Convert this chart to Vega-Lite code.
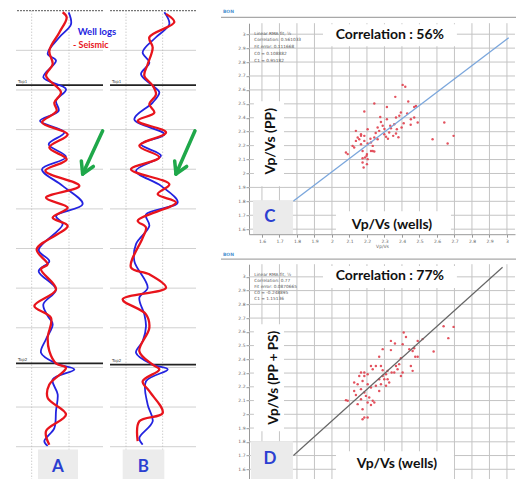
{
  "$schema": "https://vega.github.io/schema/vega-lite/v6.json",
  "padding": {"left": 15, "top": 6.7, "right": 0, "bottom": 0},
  "bounds": "flush",
  "spacing": 7,
  "config": {
    "view": {"stroke": null},
    "axis": {"labelFontSize": 4.5, "labelColor": "#666", "tickColor": "#999", "tickSize": 3, "domainColor": "#999", "labelPadding": 1, "titleFontSize": 4.5, "titleFontWeight": "normal", "titleColor": "#666", "labelFont": "DejaVu Sans", "titleFont": "DejaVu Sans", "titlePadding": 1, "labelOverlap": false, "labelBound": false, "labelFlush": false, "grid": false}
  },
  "datasets": {
    "gridAB": [{"d": 100}, {"d": 200}, {"d": 300}, {"d": 400}, {"d": 500}, {"d": 600}, {"d": 700}, {"d": 800}, {"d": 900}, {"d": 1000}, {"d": 1100}],
    "topLine": [{"d": 0}],
    "gvC": [{"x":1.6,"y":1.564,"y2":3.079},{"x":1.7,"y":1.564,"y2":3.079},{"x":1.8,"y":1.564,"y2":3.079},{"x":1.9,"y":1.564,"y2":3.079},{"x":2.0,"y":1.564,"y2":3.079},{"x":2.1,"y":1.564,"y2":3.079},{"x":2.2,"y":1.564,"y2":3.079},{"x":2.3,"y":1.564,"y2":3.079},{"x":2.4,"y":1.564,"y2":3.079},{"x":2.5,"y":1.564,"y2":3.079},{"x":2.6,"y":1.564,"y2":3.079},{"x":2.7,"y":1.564,"y2":3.079},{"x":2.8,"y":1.564,"y2":3.079},{"x":2.9,"y":1.564,"y2":3.079},{"x":3.0,"y":1.564,"y2":3.079}],
    "ghC": [{"y":1.6,"x":1.526,"x2":3.046},{"y":1.7,"x":1.526,"x2":3.046},{"y":1.8,"x":1.526,"x2":3.046},{"y":1.9,"x":1.526,"x2":3.046},{"y":2.0,"x":1.526,"x2":3.046},{"y":2.1,"x":1.526,"x2":3.046},{"y":2.2,"x":1.526,"x2":3.046},{"y":2.3,"x":1.526,"x2":3.046},{"y":2.4,"x":1.526,"x2":3.046},{"y":2.5,"x":1.526,"x2":3.046},{"y":2.6,"x":1.526,"x2":3.046},{"y":2.7,"x":1.526,"x2":3.046},{"y":2.8,"x":1.526,"x2":3.046},{"y":2.9,"x":1.526,"x2":3.046},{"y":3.0,"x":1.526,"x2":3.046}],
    "gvD": [{"x":1.6,"y":1.528,"y2":3.092},{"x":1.7,"y":1.528,"y2":3.092},{"x":1.8,"y":1.528,"y2":3.092},{"x":1.9,"y":1.528,"y2":3.092},{"x":2.0,"y":1.528,"y2":3.092},{"x":2.1,"y":1.528,"y2":3.092},{"x":2.2,"y":1.528,"y2":3.092},{"x":2.3,"y":1.528,"y2":3.092},{"x":2.4,"y":1.528,"y2":3.092},{"x":2.5,"y":1.528,"y2":3.092},{"x":2.6,"y":1.528,"y2":3.092},{"x":2.7,"y":1.528,"y2":3.092},{"x":2.8,"y":1.528,"y2":3.092},{"x":2.9,"y":1.528,"y2":3.092},{"x":3.0,"y":1.528,"y2":3.092}],
    "A_log": [{"amp":158,"d":4},{"amp":165,"d":34},{"amp":130,"d":67},{"amp":95,"d":109},{"amp":120,"d":126},{"amp":82,"d":168},{"amp":150,"d":198},{"amp":120,"d":227},{"amp":128,"d":253},{"amp":72,"d":278},{"amp":145,"d":307},{"amp":98,"d":337},{"amp":150,"d":369},{"amp":78,"d":400},{"amp":140,"d":442},{"amp":200,"d":488},{"amp":120,"d":518},{"amp":140,"d":539},{"amp":68,"d":604},{"amp":100,"d":632},{"amp":68,"d":657},{"amp":120,"d":703},{"amp":82,"d":741},{"amp":95,"d":770},{"amp":110,"d":791},{"amp":90,"d":829},{"amp":75,"d":863},{"amp":120,"d":890},{"amp":175,"d":905},{"amp":110,"d":930},{"amp":125,"d":968},{"amp":120,"d":1010},{"amp":115,"d":1053},{"amp":85,"d":1086},{"amp":95,"d":1098}],
    "A_seis": [{"amp":140,"d":4},{"amp":152,"d":17},{"amp":130,"d":55},{"amp":100,"d":101},{"amp":110,"d":135},{"amp":90,"d":164},{"amp":135,"d":206},{"amp":115,"d":232},{"amp":122,"d":253},{"amp":78,"d":282},{"amp":155,"d":312},{"amp":100,"d":345},{"amp":152,"d":375},{"amp":88,"d":404},{"amp":190,"d":442},{"amp":90,"d":472},{"amp":155,"d":497},{"amp":110,"d":522},{"amp":155,"d":543},{"amp":62,"d":602},{"amp":95,"d":640},{"amp":75,"d":652},{"amp":120,"d":703},{"amp":55,"d":745},{"amp":105,"d":775},{"amp":95,"d":825},{"amp":100,"d":859},{"amp":120,"d":890},{"amp":150,"d":901},{"amp":100,"d":943},{"amp":95,"d":977},{"amp":150,"d":1019},{"amp":90,"d":1061},{"amp":100,"d":1095}],
    "B_log": [{"amp":175,"d":4},{"amp":190,"d":34},{"amp":150,"d":67},{"amp":110,"d":105},{"amp":130,"d":131},{"amp":105,"d":160},{"amp":140,"d":189},{"amp":160,"d":206},{"amp":140,"d":232},{"amp":85,"d":274},{"amp":175,"d":312},{"amp":105,"d":337},{"amp":165,"d":366},{"amp":90,"d":404},{"amp":165,"d":442},{"amp":215,"d":484},{"amp":120,"d":514},{"amp":130,"d":543},{"amp":90,"d":589},{"amp":85,"d":632},{"amp":125,"d":699},{"amp":100,"d":724},{"amp":115,"d":766},{"amp":120,"d":796},{"amp":110,"d":834},{"amp":90,"d":863},{"amp":140,"d":893},{"amp":185,"d":905},{"amp":120,"d":935},{"amp":125,"d":994},{"amp":140,"d":1036},{"amp":100,"d":1078},{"amp":110,"d":1095}],
    "B_seis": [{"amp":180,"d":8},{"amp":205,"d":29},{"amp":130,"d":67},{"amp":140,"d":93},{"amp":125,"d":135},{"amp":115,"d":164},{"amp":140,"d":189},{"amp":150,"d":211},{"amp":130,"d":236},{"amp":145,"d":257},{"amp":95,"d":278},{"amp":180,"d":307},{"amp":100,"d":341},{"amp":160,"d":370},{"amp":75,"d":400},{"amp":190,"d":438},{"amp":155,"d":463},{"amp":210,"d":484},{"amp":95,"d":530},{"amp":120,"d":547},{"amp":110,"d":573},{"amp":75,"d":648},{"amp":130,"d":665},{"amp":180,"d":699},{"amp":50,"d":728},{"amp":120,"d":766},{"amp":130,"d":800},{"amp":100,"d":859},{"amp":140,"d":893},{"amp":160,"d":905},{"amp":110,"d":935},{"amp":130,"d":960},{"amp":170,"d":1015},{"amp":100,"d":1036},{"amp":95,"d":1086}],
    "ptsC": [{"x":2.404,"y":2.636},{"x":2.419,"y":2.622},{"x":2.362,"y":2.55},{"x":2.242,"y":2.502},{"x":2.314,"y":2.478},{"x":2.436,"y":2.517},{"x":2.48,"y":2.485},{"x":2.47,"y":2.478},{"x":2.185,"y":2.445},{"x":2.394,"y":2.438},{"x":2.385,"y":2.414},{"x":2.276,"y":2.406},{"x":2.314,"y":2.39},{"x":2.366,"y":2.402},{"x":2.451,"y":2.39},{"x":2.47,"y":2.402},{"x":2.49,"y":2.366},{"x":2.642,"y":2.366},{"x":2.356,"y":2.354},{"x":2.398,"y":2.33},{"x":2.204,"y":2.318},{"x":2.261,"y":2.33},{"x":2.27,"y":2.306},{"x":2.29,"y":2.342},{"x":2.333,"y":2.342},{"x":2.337,"y":2.325},{"x":2.371,"y":2.318},{"x":2.327,"y":2.294},{"x":2.299,"y":2.282},{"x":2.309,"y":2.263},{"x":2.366,"y":2.287},{"x":2.242,"y":2.258},{"x":2.261,"y":2.246},{"x":2.166,"y":2.27},{"x":2.575,"y":2.246},{"x":2.695,"y":2.27},{"x":2.661,"y":2.215},{"x":2.185,"y":2.234},{"x":2.204,"y":2.215},{"x":2.233,"y":2.198},{"x":2.223,"y":2.162},{"x":2.242,"y":2.158},{"x":2.2,"y":2.139},{"x":2.189,"y":2.115},{"x":2.175,"y":2.079},{"x":2.2,"y":2.067},{"x":2.181,"y":2.043},{"x":2.08,"y":2.151},{"x":2.09,"y":2.139},{"x":2.118,"y":2.198},{"x":2.127,"y":2.187},{"x":2.137,"y":2.234},{"x":2.147,"y":2.258},{"x":2.166,"y":2.21},{"x":2.175,"y":2.162},{"x":2.137,"y":2.306},{"x":2.175,"y":2.11},{"x":2.198,"y":2.127},{"x":2.204,"y":2.103},{"x":2.166,"y":2.282},{"x":2.185,"y":2.27},{"x":2.156,"y":2.246},{"x":2.233,"y":2.162},{"x":2.223,"y":2.222},{"x":2.28,"y":2.37},{"x":2.3,"y":2.32},{"x":2.35,"y":2.27},{"x":2.32,"y":2.25},{"x":2.25,"y":2.29},{"x":2.43,"y":2.43},{"x":2.45,"y":2.35},{"x":2.41,"y":2.36},{"x":2.22,"y":2.25},{"x":2.38,"y":2.26}],
    "ptsD": [{"x":2.638,"y":2.641},{"x":2.695,"y":2.636},{"x":2.665,"y":2.554},{"x":2.41,"y":2.595},{"x":2.423,"y":2.563},{"x":2.337,"y":2.534},{"x":2.36,"y":2.515},{"x":2.404,"y":2.51},{"x":2.49,"y":2.534},{"x":2.518,"y":2.547},{"x":2.29,"y":2.474},{"x":2.442,"y":2.474},{"x":2.47,"y":2.481},{"x":2.461,"y":2.461},{"x":2.581,"y":2.457},{"x":2.337,"y":2.467},{"x":2.27,"y":2.418},{"x":2.49,"y":2.418},{"x":2.476,"y":2.418},{"x":2.394,"y":2.408},{"x":2.384,"y":2.365},{"x":2.223,"y":2.352},{"x":2.251,"y":2.352},{"x":2.28,"y":2.352},{"x":2.166,"y":2.304},{"x":2.185,"y":2.304},{"x":2.233,"y":2.328},{"x":2.29,"y":2.321},{"x":2.366,"y":2.352},{"x":2.375,"y":2.328},{"x":2.451,"y":2.352},{"x":2.461,"y":2.316},{"x":2.318,"y":2.316},{"x":2.341,"y":2.304},{"x":2.309,"y":2.292},{"x":2.356,"y":2.304},{"x":2.404,"y":2.304},{"x":2.394,"y":2.279},{"x":2.29,"y":2.279},{"x":2.299,"y":2.255},{"x":2.27,"y":2.255},{"x":2.318,"y":2.255},{"x":2.327,"y":2.231},{"x":2.28,"y":2.219},{"x":2.309,"y":2.207},{"x":2.156,"y":2.279},{"x":2.185,"y":2.279},{"x":2.204,"y":2.292},{"x":2.127,"y":2.231},{"x":2.147,"y":2.219},{"x":2.175,"y":2.243},{"x":2.204,"y":2.219},{"x":2.166,"y":2.183},{"x":2.223,"y":2.195},{"x":2.251,"y":2.207},{"x":2.27,"y":2.17},{"x":2.127,"y":2.17},{"x":2.137,"y":2.141},{"x":2.185,"y":2.159},{"x":2.194,"y":2.134},{"x":2.166,"y":2.11},{"x":2.213,"y":2.122},{"x":2.233,"y":2.098},{"x":2.242,"y":2.086},{"x":2.08,"y":2.103},{"x":2.09,"y":2.098},{"x":2.147,"y":2.074},{"x":2.204,"y":2.086},{"x":2.223,"y":2.068},{"x":2.175,"y":2.037},{"x":2.185,"y":1.977},{"x":2.204,"y":1.977},{"x":2.175,"y":1.964}]
  },
  "hconcat": [
    {
      "width": 87,
      "height": 436,
      "layer": [
        {"data": {"name": "gridAB"}, "mark": {"type": "rule", "color": "#d0d0d0", "strokeWidth": 1},
         "encoding": {"y": {"field": "d", "type": "quantitative", "scale": {"domain": [0, 1100], "reverse": true, "nice": false, "zero": false}, "axis": null}}},
        {"data": {"name": "topLine"}, "mark": {"type": "rule", "color": "#555", "strokeWidth": 1, "strokeDash": [2, 1]},
         "encoding": {"y": {"field": "d", "type": "quantitative", "scale": {"domain": [0, 1100], "reverse": true, "nice": false, "zero": false}, "axis": null}}},
        {"data": {"values": [{"amp": 47, "d": 0, "d2": 1185}, {"amp": 159, "d": 0, "d2": 1185}]}, "mark": {"type": "rule", "color": "#b8b8b8", "strokeWidth": 1, "strokeDash": [1, 2]},
         "encoding": {"x": {"field": "amp", "type": "quantitative", "scale": {"domain": [0, 261], "nice": false, "zero": false}, "axis": null}, "y": {"field": "d", "type": "quantitative", "scale": {"domain": [0, 1100], "reverse": true, "nice": false, "zero": false}, "axis": null}, "y2": {"field": "d2"}}},
        {"data": {"values": [{"d": 188}, {"d": 890}]}, "mark": {"type": "rule", "color": "#222", "strokeWidth": 1.8},
         "encoding": {"y": {"field": "d", "type": "quantitative", "scale": {"domain": [0, 1100], "reverse": true, "nice": false, "zero": false}, "axis": null}}},
        {"data": {"values": [{"amp": 6, "d": 184, "t": "Top1"}, {"amp": 6, "d": 886, "t": "Top2"}]}, "mark": {"type": "text", "fontSize": 4, "color": "#444", "align": "left", "baseline": "bottom", "font": "DejaVu Sans"},
         "encoding": {"x": {"field": "amp", "type": "quantitative", "scale": {"domain": [0, 261], "nice": false, "zero": false}, "axis": null}, "y": {"field": "d", "type": "quantitative", "scale": {"domain": [0, 1100], "reverse": true, "nice": false, "zero": false}, "axis": null}, "text": {"field": "t"}}},
        {"data": {"name": "A_log"}, "mark": {"type": "line", "color": "#2323e0", "strokeWidth": 1.8, "interpolate": "catmull-rom"},
         "encoding": {"x": {"field": "amp", "type": "quantitative", "scale": {"domain": [0, 261], "nice": false, "zero": false}, "axis": null}, "y": {"field": "d", "type": "quantitative", "scale": {"domain": [0, 1100], "reverse": true, "nice": false, "zero": false}, "axis": null}, "order": {"field": "d"}}},
        {"data": {"name": "A_seis"}, "mark": {"type": "line", "color": "#e8141c", "strokeWidth": 2.3, "interpolate": "catmull-rom"},
         "encoding": {"x": {"field": "amp", "type": "quantitative", "scale": {"domain": [0, 261], "nice": false, "zero": false}, "axis": null}, "y": {"field": "d", "type": "quantitative", "scale": {"domain": [0, 1100], "reverse": true, "nice": false, "zero": false}, "axis": null}, "order": {"field": "d"}}},
        {"data": {"values": [{"amp": 185, "d": 55, "t": "Well logs"}]}, "mark": {"type": "text", "fontSize": 9.5, "fontWeight": "bold", "color": "#2323e0", "align": "left", "baseline": "middle", "font": "Lato"},
         "encoding": {"x": {"field": "amp", "type": "quantitative", "scale": {"domain": [0, 261], "nice": false, "zero": false}, "axis": null}, "y": {"field": "d", "type": "quantitative", "scale": {"domain": [0, 1100], "reverse": true, "nice": false, "zero": false}, "axis": null}, "text": {"field": "t"}}},
        {"data": {"values": [{"amp": 171, "d": 86, "t": "- Seismic"}]}, "mark": {"type": "text", "fontSize": 9, "fontWeight": "bold", "color": "#e8141c", "align": "left", "baseline": "middle", "font": "Lato"},
         "encoding": {"x": {"field": "amp", "type": "quantitative", "scale": {"domain": [0, 261], "nice": false, "zero": false}, "axis": null}, "y": {"field": "d", "type": "quantitative", "scale": {"domain": [0, 1100], "reverse": true, "nice": false, "zero": false}, "axis": null}, "text": {"field": "t"}}},
        {"data": {"values": [{"amp": 260, "d": 303, "amp2": 200, "d2": 412}, {"amp": 200, "d": 412, "amp2": 196, "d2": 379}, {"amp": 200, "d": 412, "amp2": 232, "d2": 393}]}, "mark": {"type": "rule", "color": "#1fa84a", "strokeWidth": 3.5, "strokeCap": "round"},
         "encoding": {"x": {"field": "amp", "type": "quantitative", "scale": {"domain": [0, 261], "nice": false, "zero": false}, "axis": null}, "x2": {"field": "amp2"}, "y": {"field": "d", "type": "quantitative", "scale": {"domain": [0, 1100], "reverse": true, "nice": false, "zero": false}, "axis": null}, "y2": {"field": "d2"}}},
        {"data": {"values": [{"amp": 66, "amp2": 186, "d": 1107, "d2": 1185}]}, "mark": {"type": "rect", "color": "#ececec"},
         "encoding": {"x": {"field": "amp", "type": "quantitative", "scale": {"domain": [0, 261], "nice": false, "zero": false}, "axis": null}, "x2": {"field": "amp2"}, "y": {"field": "d", "type": "quantitative", "scale": {"domain": [0, 1100], "reverse": true, "nice": false, "zero": false}, "axis": null}, "y2": {"field": "d2"}}},
        {"data": {"values": [{"amp": 126, "d": 1150, "t": "A"}]}, "mark": {"type": "text", "fontSize": 17, "fontWeight": "bold", "color": "#2b3fd1", "align": "center", "baseline": "middle", "font": "Lato"},
         "encoding": {"x": {"field": "amp", "type": "quantitative", "scale": {"domain": [0, 261], "nice": false, "zero": false}, "axis": null}, "y": {"field": "d", "type": "quantitative", "scale": {"domain": [0, 1100], "reverse": true, "nice": false, "zero": false}, "axis": null}, "text": {"field": "t"}}}
      ]
    },
    {
      "width": 86,
      "height": 436,
      "layer": [
        {"data": {"name": "gridAB"}, "mark": {"type": "rule", "color": "#d0d0d0", "strokeWidth": 1},
         "encoding": {"y": {"field": "d", "type": "quantitative", "scale": {"domain": [0, 1100], "reverse": true, "nice": false, "zero": false}, "axis": null}}},
        {"data": {"name": "topLine"}, "mark": {"type": "rule", "color": "#555", "strokeWidth": 1, "strokeDash": [2, 1]},
         "encoding": {"y": {"field": "d", "type": "quantitative", "scale": {"domain": [0, 1100], "reverse": true, "nice": false, "zero": false}, "axis": null}}},
        {"data": {"values": [{"amp": 60, "d": 0, "d2": 1185}, {"amp": 170, "d": 0, "d2": 1185}]}, "mark": {"type": "rule", "color": "#b8b8b8", "strokeWidth": 1, "strokeDash": [1, 2]},
         "encoding": {"x": {"field": "amp", "type": "quantitative", "scale": {"domain": [12, 270], "nice": false, "zero": false}, "axis": null}, "y": {"field": "d", "type": "quantitative", "scale": {"domain": [0, 1100], "reverse": true, "nice": false, "zero": false}, "axis": null}, "y2": {"field": "d2"}}},
        {"data": {"values": [{"d": 188}, {"d": 893}]}, "mark": {"type": "rule", "color": "#222", "strokeWidth": 1.8},
         "encoding": {"y": {"field": "d", "type": "quantitative", "scale": {"domain": [0, 1100], "reverse": true, "nice": false, "zero": false}, "axis": null}}},
        {"data": {"values": [{"amp": 18, "d": 184, "t": "Top1"}, {"amp": 18, "d": 889, "t": "Top2"}]}, "mark": {"type": "text", "fontSize": 4, "color": "#444", "align": "left", "baseline": "bottom", "font": "DejaVu Sans"},
         "encoding": {"x": {"field": "amp", "type": "quantitative", "scale": {"domain": [12, 270], "nice": false, "zero": false}, "axis": null}, "y": {"field": "d", "type": "quantitative", "scale": {"domain": [0, 1100], "reverse": true, "nice": false, "zero": false}, "axis": null}, "text": {"field": "t"}}},
        {"data": {"name": "B_log"}, "mark": {"type": "line", "color": "#2323e0", "strokeWidth": 1.8, "interpolate": "catmull-rom"},
         "encoding": {"x": {"field": "amp", "type": "quantitative", "scale": {"domain": [12, 270], "nice": false, "zero": false}, "axis": null}, "y": {"field": "d", "type": "quantitative", "scale": {"domain": [0, 1100], "reverse": true, "nice": false, "zero": false}, "axis": null}, "order": {"field": "d"}}},
        {"data": {"name": "B_seis"}, "mark": {"type": "line", "color": "#e8141c", "strokeWidth": 2.3, "interpolate": "catmull-rom"},
         "encoding": {"x": {"field": "amp", "type": "quantitative", "scale": {"domain": [12, 270], "nice": false, "zero": false}, "axis": null}, "y": {"field": "d", "type": "quantitative", "scale": {"domain": [0, 1100], "reverse": true, "nice": false, "zero": false}, "axis": null}, "order": {"field": "d"}}},
        {"data": {"values": [{"amp": 267, "d": 303, "amp2": 210, "d2": 412}, {"amp": 210, "d": 412, "amp2": 206, "d2": 379}, {"amp": 210, "d": 412, "amp2": 242, "d2": 393}]}, "mark": {"type": "rule", "color": "#1fa84a", "strokeWidth": 3.5, "strokeCap": "round"},
         "encoding": {"x": {"field": "amp", "type": "quantitative", "scale": {"domain": [12, 270], "nice": false, "zero": false}, "axis": null}, "x2": {"field": "amp2"}, "y": {"field": "d", "type": "quantitative", "scale": {"domain": [0, 1100], "reverse": true, "nice": false, "zero": false}, "axis": null}, "y2": {"field": "d2"}}},
        {"data": {"values": [{"amp": 50, "amp2": 175, "d": 1107, "d2": 1185}]}, "mark": {"type": "rect", "color": "#ececec"},
         "encoding": {"x": {"field": "amp", "type": "quantitative", "scale": {"domain": [12, 270], "nice": false, "zero": false}, "axis": null}, "x2": {"field": "amp2"}, "y": {"field": "d", "type": "quantitative", "scale": {"domain": [0, 1100], "reverse": true, "nice": false, "zero": false}, "axis": null}, "y2": {"field": "d2"}}},
        {"data": {"values": [{"amp": 112, "d": 1150, "t": "B"}]}, "mark": {"type": "text", "fontSize": 17, "fontWeight": "bold", "color": "#2b3fd1", "align": "center", "baseline": "middle", "font": "Lato"},
         "encoding": {"x": {"field": "amp", "type": "quantitative", "scale": {"domain": [12, 270], "nice": false, "zero": false}, "axis": null}, "y": {"field": "d", "type": "quantitative", "scale": {"domain": [0, 1100], "reverse": true, "nice": false, "zero": false}, "axis": null}, "text": {"field": "t"}}}
      ]
    },
    {
      "width": 39,
      "height": 10,
      "data": {"values": []},
      "mark": {"type": "point", "opacity": 0},
      "encoding": {}
    },
    {
      "spacing": 4.5,
      "bounds": "flush",
      "vconcat": [
        {
          "width": 266,
          "height": 7.8,
          "layer": [
            {"data": {"values": [{"x": 1.366, "x2": 3.057, "y": 0.15}]}, "mark": {"type": "rule", "color": "#a8a8a8", "strokeWidth": 1.2},
             "encoding": {"x": {"field": "x", "type": "quantitative", "scale": {"domain": [1.526, 3.046], "nice": false, "zero": false}, "axis": null}, "x2": {"field": "x2"}, "y": {"field": "y", "type": "quantitative", "scale": {"domain": [0, 1], "nice": false, "zero": false}, "axis": null}}},
            {"data": {"values": [{"x": 1.377, "y": 0.8, "t": "BON"}]}, "mark": {"type": "text", "fontSize": 4.5, "fontWeight": "bold", "color": "#4a90d0", "align": "left", "baseline": "middle", "font": "DejaVu Sans"},
             "encoding": {"x": {"field": "x", "type": "quantitative", "scale": {"domain": [1.526, 3.046], "nice": false, "zero": false}, "axis": null}, "y": {"field": "y", "type": "quantitative", "scale": {"domain": [0, 1], "nice": false, "zero": false}, "axis": null}, "text": {"field": "t"}}}
          ]
        },
        {
          "width": 266,
          "height": 211,
          "encoding": {
            "x": {"field": "x", "type": "quantitative", "scale": {"domain": [1.526, 3.046], "nice": false, "zero": false}, "axis": {"values": [1.6, 1.7, 1.8, 1.9, 2, 2.1, 2.2, 2.3, 2.4, 2.5, 2.6, 2.7, 2.8, 2.9, 3], "format": "~g", "title": "Vp/Vs", "grid": false}},
            "y": {"field": "y", "type": "quantitative", "scale": {"domain": [1.564, 3.079], "nice": false, "zero": false}, "axis": {"values": [1.6, 1.7, 1.8, 1.9, 2, 2.1, 2.2, 2.3, 2.4, 2.5, 2.6, 2.7, 2.8, 2.9, 3], "format": "~g", "title": null, "grid": false}}
          },
          "layer": [
            {"data": {"name": "gvC"}, "mark": {"type": "rule", "color": "#c4c4c4", "strokeWidth": 1}, "encoding": {"y2": {"field": "y2"}}},
            {"data": {"name": "ghC"}, "mark": {"type": "rule", "color": "#c4c4c4", "strokeWidth": 1}, "encoding": {"x2": {"field": "x2"}}},
            {"data": {"name": "ptsC"}, "mark": {"type": "point", "filled": true, "size": 6, "color": "#e0404e", "opacity": 0.9}},
            {"data": {"values": [{"x": 1.78, "y": 1.803}, {"x": 3.01, "y": 2.974}]}, "mark": {"type": "line", "color": "#7aa6dc", "strokeWidth": 1.3}},
            {"data": {"values": [{"x": 1.949, "x2": 2.714, "y": 3.072, "y2": 2.914}, {"x": 1.554, "x2": 1.726, "y": 2.519, "y2": 1.909}, {"x": 2.023, "x2": 2.68, "y": 1.729, "y2": 1.566}]}, "mark": {"type": "rect", "color": "#ffffff"},
             "encoding": {"x2": {"field": "x2"}, "y2": {"field": "y2"}}},
            {"data": {"values": [{"x": 1.549, "x2": 1.777, "y": 1.808, "y2": 1.566}]}, "mark": {"type": "rect", "color": "#ebebeb"},
             "encoding": {"x2": {"field": "x2"}, "y2": {"field": "y2"}}},
            {"data": {"values": [{"x": 1.556, "y": 3.005, "t": "Linear RMA fit, ½"}, {"x": 1.556, "y": 2.955, "t": "Correlation: 0.561033"}, {"x": 1.556, "y": 2.905, "t": "Fit error: 0.111668"}, {"x": 1.556, "y": 2.855, "t": "C0 = 0.108882"}, {"x": 1.556, "y": 2.805, "t": "C1 = 0.95182"}]}, "mark": {"type": "text", "fontSize": 4.3, "color": "#555", "align": "left", "baseline": "middle", "font": "DejaVu Sans"},
             "encoding": {"text": {"field": "t"}}},
            {"data": {"values": [{"x": 2.331, "y": 2.996, "t": "Correlation : 56%"}, {"x": 2.343, "y": 1.629, "t": "Vp/Vs (wells)"}]}, "mark": {"type": "text", "fontSize": 14, "fontWeight": "bold", "color": "#111", "align": "center", "baseline": "middle", "font": "Lato"},
             "encoding": {"text": {"field": "t"}}},
            {"data": {"values": [{"x": 1.654, "y": 2.232, "t": "Vp/Vs (PP)"}]}, "mark": {"type": "text", "fontSize": 14, "fontWeight": "bold", "color": "#111", "align": "center", "baseline": "middle", "angle": 270, "font": "Lato"},
             "encoding": {"text": {"field": "t"}}},
            {"data": {"values": [{"x": 1.646, "y": 1.686, "t": "C"}]}, "mark": {"type": "text", "fontSize": 17, "fontWeight": "bold", "color": "#2b3fd1", "align": "center", "baseline": "middle", "font": "Lato"},
             "encoding": {"text": {"field": "t"}}}
          ]
        },
        {
          "width": 266,
          "height": 21,
          "layer": [
            {"data": {"values": [{"x": 1.366, "x2": 3.057, "y": 0.03}]}, "mark": {"type": "rule", "color": "#a8a8a8", "strokeWidth": 1.2},
             "encoding": {"x": {"field": "x", "type": "quantitative", "scale": {"domain": [1.526, 3.046], "nice": false, "zero": false}, "axis": null}, "x2": {"field": "x2"}, "y": {"field": "y", "type": "quantitative", "scale": {"domain": [0, 1], "nice": false, "zero": false}, "axis": null}}},
            {"data": {"values": [{"x": 1.377, "y": 0.23, "t": "BON"}]}, "mark": {"type": "text", "fontSize": 4.5, "fontWeight": "bold", "color": "#4a90d0", "align": "left", "baseline": "middle", "font": "DejaVu Sans"},
             "encoding": {"x": {"field": "x", "type": "quantitative", "scale": {"domain": [1.526, 3.046], "nice": false, "zero": false}, "axis": null}, "y": {"field": "y", "type": "quantitative", "scale": {"domain": [0, 1], "nice": false, "zero": false}, "axis": null}, "text": {"field": "t"}}}
          ]
        },
        {
          "width": 266,
          "height": 215,
          "encoding": {
            "x": {"field": "x", "type": "quantitative", "scale": {"domain": [1.526, 3.046], "nice": false, "zero": false}, "axis": {"values": [1.6, 1.7, 1.8, 1.9, 2, 2.1, 2.2, 2.3, 2.4, 2.5, 2.6, 2.7, 2.8, 2.9, 3], "labels": false, "title": null, "grid": false}},
            "y": {"field": "y", "type": "quantitative", "scale": {"domain": [1.528, 3.092], "nice": false, "zero": false}, "axis": {"values": [1.6, 1.7, 1.8, 1.9, 2, 2.1, 2.2, 2.3, 2.4, 2.5, 2.6, 2.7, 2.8, 2.9, 3], "format": "~g", "title": null, "grid": false}}
          },
          "layer": [
            {"data": {"name": "gvD"}, "mark": {"type": "rule", "color": "#c4c4c4", "strokeWidth": 1}, "encoding": {"y2": {"field": "y2"}}},
            {"data": {"name": "ghC"}, "mark": {"type": "rule", "color": "#c4c4c4", "strokeWidth": 1}, "encoding": {"x2": {"field": "x2"}}},
            {"data": {"name": "ptsD"}, "mark": {"type": "point", "filled": true, "size": 6, "color": "#e0404e", "opacity": 0.9}},
            {"data": {"values": [{"x": 1.78, "y": 1.70}, {"x": 2.975, "y": 3.07}]}, "mark": {"type": "line", "color": "#666", "strokeWidth": 1.2}},
            {"data": {"values": [{"x": 1.949, "x2": 2.714, "y": 3.078, "y2": 2.918}, {"x": 1.554, "x2": 1.726, "y": 2.656, "y2": 1.877}, {"x": 2.023, "x2": 2.697, "y": 1.731, "y2": 1.53}]}, "mark": {"type": "rect", "color": "#ffffff"},
             "encoding": {"x2": {"field": "x2"}, "y2": {"field": "y2"}}},
            {"data": {"values": [{"x": 1.537, "x2": 1.777, "y": 1.804, "y2": 1.53}]}, "mark": {"type": "rect", "color": "#ebebeb"},
             "encoding": {"x2": {"field": "x2"}, "y2": {"field": "y2"}}},
            {"data": {"values": [{"x": 1.556, "y": 3.015, "t": "Linear RMA fit, ½"}, {"x": 1.556, "y": 2.97, "t": "Correlation: 0.77"}, {"x": 1.556, "y": 2.926, "t": "Fit error: 0.0870665"}, {"x": 1.556, "y": 2.88, "t": "C0 = -0.248895"}, {"x": 1.556, "y": 2.836, "t": "C1 = 1.15136"}]}, "mark": {"type": "text", "fontSize": 4.3, "color": "#555", "align": "left", "baseline": "middle", "font": "DejaVu Sans"},
             "encoding": {"text": {"field": "t"}}},
            {"data": {"values": [{"x": 2.331, "y": 3.005, "t": "Correlation : 77%"}, {"x": 2.371, "y": 1.637, "t": "Vp/Vs (wells)"}]}, "mark": {"type": "text", "fontSize": 14, "fontWeight": "bold", "color": "#111", "align": "center", "baseline": "middle", "font": "Lato"},
             "encoding": {"text": {"field": "t"}}},
            {"data": {"values": [{"x": 1.669, "y": 2.266, "t": "Vp/Vs (PP + PS)"}]}, "mark": {"type": "text", "fontSize": 13.5, "fontWeight": "bold", "color": "#111", "align": "center", "baseline": "middle", "angle": 270, "font": "Lato"},
             "encoding": {"text": {"field": "t"}}},
            {"data": {"values": [{"x": 1.646, "y": 1.673, "t": "D"}]}, "mark": {"type": "text", "fontSize": 17, "fontWeight": "bold", "color": "#2b3fd1", "align": "center", "baseline": "middle", "font": "Lato"},
             "encoding": {"text": {"field": "t"}}}
          ]
        }
      ]
    }
  ]
}
